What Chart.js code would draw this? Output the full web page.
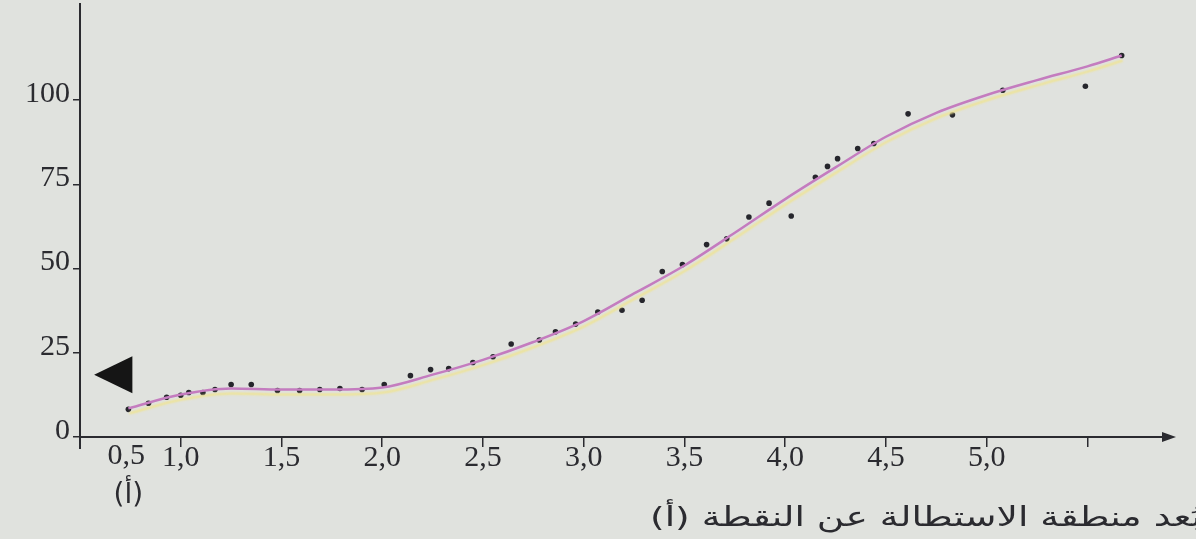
<!DOCTYPE html>
<html>
<head>
<meta charset="utf-8">
<script src="https://cdn.jsdelivr.net/npm/chart.js@4"></script>
<style>
  body { margin: 0; background: #e0e2de; }
  canvas { display: block; background: #e0e2de; }
</style>
</head>
<body>
<canvas id="chart" width="1196" height="539"></canvas>
<script>
// measured points (distance, value)
const pointX = [0.74, 0.84, 0.93, 1.00, 1.04, 1.11, 1.17, 1.25, 1.35, 1.48, 1.59, 1.69, 1.79, 1.90, 2.01, 2.14, 2.24, 2.33, 2.45, 2.55,
                2.64, 2.78, 2.86, 2.96, 3.07, 3.19, 3.29, 3.39, 3.49, 3.61, 3.71, 3.82, 3.92, 4.03, 4.15, 4.21, 4.26, 4.36, 4.44, 4.61,
                4.83, 5.08, 5.49, 5.67];
const pointY = [8.2, 10.0, 11.8, 12.4, 13.2, 13.2, 14.1, 15.6, 15.6, 13.8, 13.8, 14.1, 14.4, 14.1, 15.6, 18.2, 20.0, 20.3, 22.1, 23.8,
                27.6, 28.8, 31.2, 33.5, 37.1, 37.6, 40.6, 49.1, 51.2, 57.1, 58.8, 65.3, 69.4, 65.6, 77.1, 80.3, 82.6, 85.6, 87.1, 95.9,
                95.6, 102.9, 104.1, 113.2];

// fitted curve
const curveX = [0.74, 1.0, 1.25, 1.5, 1.75, 2.0, 2.25, 2.5, 2.75, 3.0, 3.25, 3.5, 3.75, 4.0, 4.25, 4.5, 4.75, 5.0, 5.25, 5.5, 5.67];
const curveY = [8.5, 12.6, 14.4, 14.1, 14.1, 14.7, 18.5, 22.9, 28.2, 34.4, 42.6, 50.9, 60.6, 70.6, 80.0, 89.1, 96.2, 101.5, 105.9, 110.0, 113.2];

const xTicks = [1.0, 1.5, 2.0, 2.5, 3.0, 3.5, 4.0, 4.5, 5.0, 5.5];
const xTickLabels = ['1,0', '1,5', '2,0', '2,5', '3,0', '3,5', '4,0', '4,5', '5,0', ''];
const yTicks = [0, 25, 50, 75, 100];

const firstLabel = '0,5';
const pointLabel = '(أ)';
const xTitle = 'بُعد منطقة الاستطالة عن النقطة (أ)';

const ink = '#2b2b30';
const serif = '"Liberation Serif", "DejaVu Serif", serif';

const shadowLine = {
    id: 'shadowLine',
    beforeDatasetDraw(chart, args) {
        if (args.index === 0) {
            chart.ctx.save();
            chart.ctx.shadowColor = 'rgba(238, 228, 150, 0.95)';
            chart.ctx.shadowOffsetX = 1;
            chart.ctx.shadowOffsetY = 5;
            chart.ctx.shadowBlur = 2;
        }
    },
    afterDatasetDraw(chart, args) {
        if (args.index === 0) chart.ctx.restore();
    }
};

const extras = {
    id: 'extras',
    afterDraw(chart) {
        const ctx = chart.ctx;
        const a = chart.chartArea;
        const x = chart.scales.x, y = chart.scales.y;
        ctx.save();
        ctx.strokeStyle = ink;
        ctx.fillStyle = ink;
        ctx.lineWidth = 2;
        // y axis runs a bit below the x axis
        ctx.beginPath();
        ctx.moveTo(a.left, a.bottom);
        ctx.lineTo(a.left, a.bottom + 12);
        ctx.stroke();
        // arrow head on x axis
        ctx.beginPath();
        ctx.moveTo(a.right + 8, a.bottom);
        ctx.lineTo(a.right - 6, a.bottom - 5);
        ctx.lineTo(a.right - 6, a.bottom + 5);
        ctx.closePath();
        ctx.fill();
        // black marker triangle
        ctx.fillStyle = '#151515';
        ctx.beginPath();
        ctx.moveTo(x.getPixelForValue(0.57), y.getPixelForValue(18.5));
        ctx.lineTo(x.getPixelForValue(0.76), y.getPixelForValue(24));
        ctx.lineTo(x.getPixelForValue(0.76), y.getPixelForValue(13));
        ctx.closePath();
        ctx.fill();
        // 0,5 label and (أ)
        ctx.fillStyle = ink;
        ctx.textAlign = 'center';
        ctx.textBaseline = 'middle';
        ctx.font = '30px ' + serif;
        ctx.fillText(firstLabel, x.getPixelForValue(0.73), a.bottom + 19);
        ctx.font = '28px "DejaVu Sans", serif';
        ctx.fillText(pointLabel, x.getPixelForValue(0.74), a.bottom + 59);
        // axis title, stretched to the printed width
        ctx.font = '26px "DejaVu Sans", sans-serif';
        ctx.direction = 'rtl';
        ctx.textAlign = 'right';
        const w = ctx.measureText(xTitle).width;
        const target = 552;
        ctx.translate(1202, a.bottom + 82);
        ctx.scale(target / w, 1.05);
        ctx.fillText(xTitle, 0, 0);
        ctx.restore();
    }
};

new Chart(document.getElementById('chart'), {
    type: 'scatter',
    data: {
        datasets: [{
            type: 'line',
            data: curveX.map((v, i) => ({ x: v, y: curveY[i] })),
            borderColor: '#c47cbf',
            borderWidth: 2.5,
            pointRadius: 0,
            cubicInterpolationMode: 'monotone',
            fill: false
        }, {
            data: pointX.map((v, i) => ({ x: v, y: pointY[i] })),
            backgroundColor: '#26262c',
            borderWidth: 0,
            pointRadius: 2.8
        }]
    },
    options: {
        responsive: false,
        animation: false,
        layout: { padding: { left: 0, right: 28, top: 0, bottom: 0 } },
        plugins: {
            legend: { display: false },
            tooltip: { enabled: false }
        },
        scales: {
            x: {
                type: 'linear',
                min: 0.5,
                max: 5.9,
                afterFit: s => { s.height = 102; s.paddingLeft = 0; s.paddingRight = 0; },
                afterBuildTicks: s => { s.ticks = xTicks.map(v => ({ value: v })); },
                border: { display: true, color: ink, width: 2 },
                grid: { drawOnChartArea: false, color: ink, lineWidth: 1.5, tickLength: 10 },
                ticks: {
                    color: ink,
                    font: { family: serif, size: 30 },
                    padding: -7,
                    maxRotation: 0,
                    autoSkip: false,
                    callback: (v, i) => xTickLabels[i]
                }
            },
            y: {
                min: 0,
                max: 128.5,
                afterFit: s => { s.width = 80; s.paddingTop = 0; s.paddingBottom = 0; },
                afterBuildTicks: s => { s.ticks = yTicks.map(v => ({ value: v })); },
                border: { display: true, color: ink, width: 2 },
                grid: { drawOnChartArea: false, color: ink, lineWidth: 1.5, tickLength: 7 },
                ticks: {
                    color: ink,
                    font: { family: serif, size: 30 },
                    padding: 3,
                    labelOffset: -6
                }
            }
        }
    },
    plugins: [shadowLine, extras]
});
</script>
</body>
</html>
